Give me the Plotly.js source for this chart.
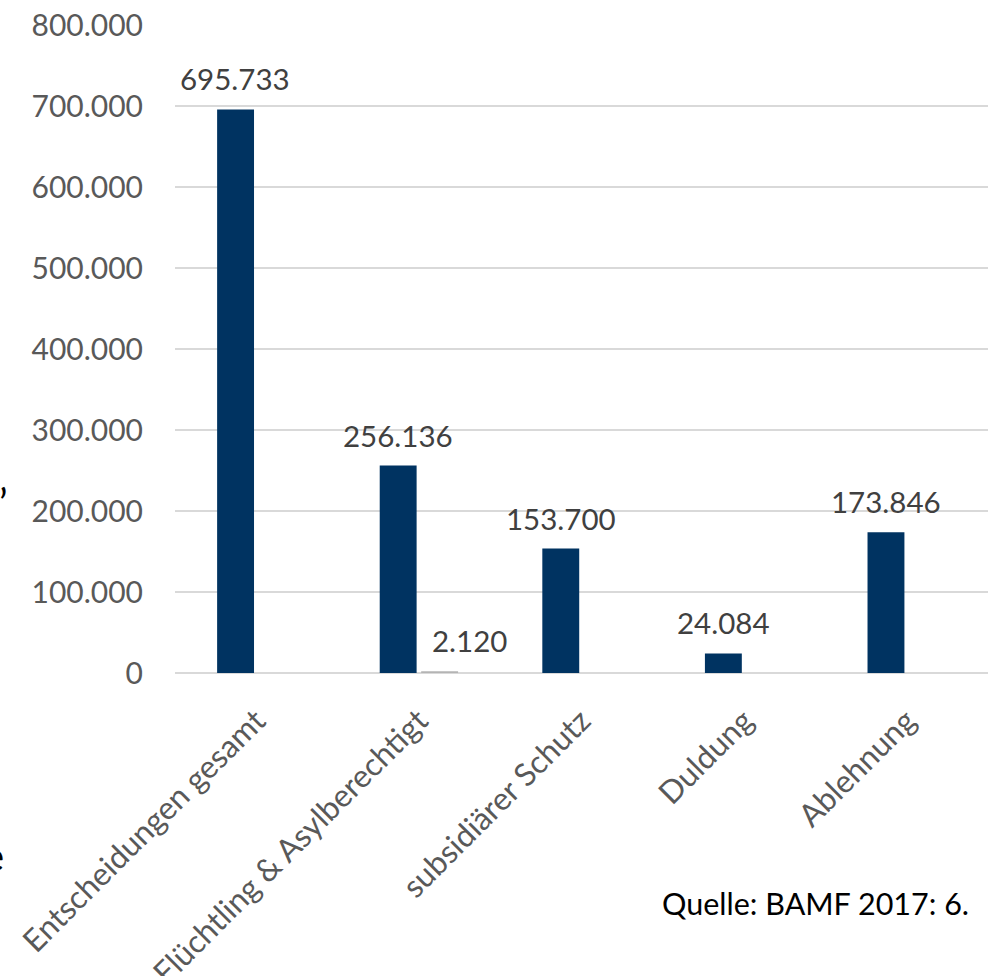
<!DOCTYPE html>
<html><head><meta charset="utf-8">
<script src="https://cdn.plot.ly/plotly-3.0.1.min.js"></script>
<style>html,body{margin:0;padding:0;background:#fff;overflow:hidden}#chart{width:989px;height:976px}</style>
</head><body><div id="chart"></div>
<script>
const categories = ["Entscheidungen gesamt", "Flüchtling & Asylberechtigt", "subsidiärer Schutz", "Duldung", "Ablehnung"];
const seriesMain = [695733, 256136, 153700, 24084, 173846];
const seriesSecond = [null, 2120, null, null, null];
const yTickVals = [0, 100000, 200000, 300000, 400000, 500000, 600000, 700000, 800000];
const yTickText = ["0", "100.000", "200.000", "300.000", "400.000", "500.000", "600.000", "700.000", "800.000"];
const sourceText = "Quelle: BAMF 2017: 6.";

function fmt(v) { return String(v).replace(/\B(?=(\d{3})+(?!\d))/g, "."); }

const FONT = "Lato, 'Open Sans', sans-serif";
const navy = "#003361";
const grey = "#b4b4b4";

const traces = [
  { type: "bar", x: categories, y: seriesMain, marker: { color: navy, line: { width: 0 } }, hoverinfo: "skip" },
  { type: "bar", x: categories, y: seriesSecond, marker: { color: grey, line: { width: 0 } }, hoverinfo: "skip" }
];

const annotations = [];
const seriesList = [seriesMain, seriesSecond];
const groupShift = [-21, 21];
const extraNudge = [[0,0,0,0,0],[0,30,0,0,0]];
seriesList.forEach((s, si) => {
  s.forEach((v, ci) => {
    if (v === null) return;
    annotations.push({
      x: categories[ci], y: v, xref: "x", yref: "y",
      text: fmt(v), showarrow: false, yanchor: "bottom",
      xshift: groupShift[si] + extraNudge[si][ci], yshift: 11,
      font: { family: FONT, size: 29.5, color: "#404040" }
    });
  });
});
annotations.push({
  xref: "paper", yref: "paper", x: 1, y: 0, xanchor: "right", yanchor: "middle",
  xshift: -17, yshift: -230, showarrow: false, text: sourceText,
  font: { family: FONT, size: 30.5, color: "#000000" }
});
// cut-off glyphs at the left page edge
annotations.push({ xref: "paper", yref: "paper", x: 0, y: 0, xanchor: "left", yanchor: "middle",
  xshift: -178, yshift: 170, showarrow: false, text: "’", font: { family: FONT, size: 40, color: "#000" } });
annotations.push({ xref: "paper", yref: "paper", x: 0, y: 0, xanchor: "left", yanchor: "middle",
  xshift: -194, yshift: -183, showarrow: false, text: "e", font: { family: FONT, size: 40, color: "#000" } });

const layout = {
  width: 989, height: 976,
  margin: { l: 175, r: 1, t: 25, b: 303 },
  paper_bgcolor: "#fff", plot_bgcolor: "#fff",
  barmode: "group", bargap: 0.49, bargroupgap: 0.11,
  showlegend: false,
  font: { family: FONT, color: "#595959" },
  xaxis: {
    type: "category", tickangle: -45, showline: false, showgrid: false, zeroline: false,
    ticks: "", ticklabelstandoff: 22,
    tickfont: { family: FONT, size: 31.5, color: "#595959" }
  },
  yaxis: {
    range: [0, 800000], tickvals: yTickVals, ticktext: yTickText,
    showgrid: true, gridcolor: "#d9d9d9", gridwidth: 1.6,
    zeroline: true, zerolinecolor: "#d9d9d9", zerolinewidth: 2.2,
    showline: false, ticks: "", ticklabelstandoff: 31,
    tickfont: { family: FONT, size: 30, color: "#595959" }
  },
  annotations: annotations
};

Plotly.newPlot("chart", traces, layout, { staticPlot: true, displayModeBar: false });
</script>
</body></html>
